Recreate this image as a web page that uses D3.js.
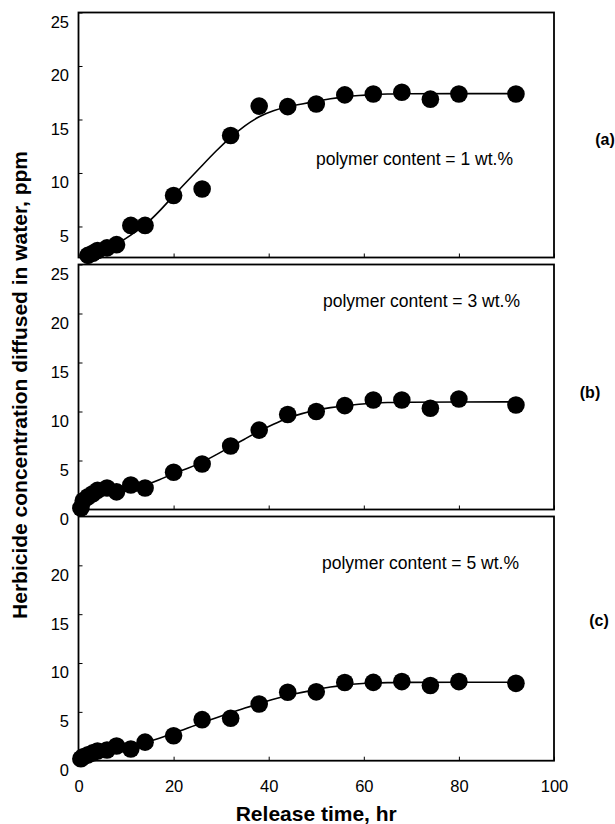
<!DOCTYPE html>
<html>
<head>
<meta charset="utf-8">
<script src="https://cdn.jsdelivr.net/npm/d3@7/dist/d3.min.js"></script>
<style>
  html, body { margin: 0; padding: 0; background: #fff; }
  svg { display: block; }
  text { font-family: "Liberation Sans", Arial, sans-serif; fill: #000; }
</style>
</head>
<body>
<svg id="chart" width="615" height="824"></svg>
<script>
// ---- data ----
const timeA = [2, 3, 4, 6, 8, 11, 14, 20, 26, 32, 38, 44, 50, 56, 62, 68, 74, 80, 92];
const concA = [2.3, 2.5, 2.75, 3.0, 3.3, 5.1, 5.1, 7.9, 8.5, 13.5, 16.25, 16.2, 16.45, 17.3, 17.38, 17.54, 16.9, 17.38, 17.38];

const timeBC = [0.5, 1, 2, 3, 4, 6, 8, 11, 14, 20, 26, 32, 38, 44, 50, 56, 62, 68, 74, 80, 92];
const concB = [0.15, 0.9, 1.3, 1.6, 1.95, 2.2, 1.8, 2.5, 2.2, 3.8, 4.64, 6.48, 8.1, 9.7, 10.0, 10.6, 11.17, 11.17, 10.33, 11.28, 10.66];
const concC = [0.2, 0.4, 0.6, 0.8, 1.0, 1.1, 1.5, 1.2, 1.9, 2.55, 4.2, 4.35, 5.8, 7.0, 7.05, 8.0, 8.02, 8.1, 7.7, 8.1, 7.92];

// fitted curves
const fitTimeA = [2, 5, 8, 11, 14, 17, 20, 23, 26, 29, 32, 35, 38, 41, 44, 47, 50, 53, 56, 59, 62, 65, 68, 80, 92];
const fitA = [2.2, 2.7, 3.3, 4.2, 5.1, 6.4, 7.9, 9.3, 10.7, 12.1, 13.35, 14.45, 15.3, 15.85, 16.2, 16.45, 16.7, 16.95, 17.12, 17.25, 17.33, 17.38, 17.41, 17.42, 17.42];
const fitTimeBC = [0.5, 2, 5, 8, 11, 14, 17, 20, 23, 26, 29, 32, 35, 38, 41, 44, 47, 50, 53, 56, 59, 62, 65, 68, 80, 92];
const fitB = [0.3, 1.2, 1.75, 2.0, 2.2, 2.45, 3.0, 3.7, 4.2, 4.8, 5.6, 6.4, 7.2, 8.0, 8.7, 9.35, 9.8, 10.15, 10.4, 10.6, 10.75, 10.85, 10.92, 10.95, 10.98, 10.98];
const fitC = [0.3, 0.55, 0.85, 1.15, 1.5, 1.85, 2.3, 2.8, 3.35, 3.9, 4.4, 4.9, 5.4, 5.85, 6.3, 6.7, 7.0, 7.28, 7.55, 7.75, 7.88, 7.96, 8.0, 8.02, 8.03, 8.03];

const yTicksA = [5, 10, 15, 20, 25];
const yTicksB = [0, 5, 10, 15, 20, 25];
const yTicksC = [0, 5, 10, 15, 20];
const xTicks = [0, 20, 40, 60, 80, 100];

const labels = ["(a)", "(b)", "(c)"];
const notes = ["polymer content = 1 wt.%", "polymer content = 3 wt.%", "polymer content = 5 wt.%"];
const xTitle = "Release time, hr";
const yTitle = "Herbicide concentration diffused in water, ppm";

// ---- layout ----
const svg = d3.select("#chart");
const left = 78.5, right = 554;
const x = d3.scaleLinear().domain([0, 100]).range([left, right]);
const FONT = "'Liberation Sans', Arial, sans-serif";

const panels = [
  { t: timeA, c: concA, ft: fitTimeA, f: fitA, ticks: yTicksA, dom: [2.1, 25], top: 12.5, bottom: 257.5,
    label: labels[0], lx: 605, ly: 139, note: notes[0], nx: 316, ny: 159 },
  { t: timeBC, c: concB, ft: fitTimeBC, f: fitB, ticks: yTicksB, dom: [0, 25], top: 264.5, bottom: 509.5,
    label: labels[1], lx: 590, ly: 392, note: notes[1], nx: 323, ny: 301 },
  { t: timeBC, c: concC, ft: fitTimeBC, f: fitC, ticks: yTicksC, dom: [0, 25], top: 516.5, bottom: 760.7,
    label: labels[2], lx: 599, ly: 620, note: notes[2], nx: 322, ny: 563 }
];

panels.forEach((p, i) => {
  const y = d3.scaleLinear().domain(p.dom).range([p.bottom, p.top]);
  const g = svg.append("g");

  // frame
  g.append("rect")
    .attr("x", left).attr("y", p.top)
    .attr("width", right - left).attr("height", p.bottom - p.top)
    .attr("fill", "#fff").attr("stroke", "#000").attr("stroke-width", 1.8);

  // y axis: inward ticks + labels
  const yAxis = d3.axisLeft(y).tickValues(p.ticks).tickSize(-4).tickPadding(10);
  const ya = g.append("g").attr("transform", `translate(${left},0)`).call(yAxis);
  ya.select(".domain").remove();
  ya.selectAll(".tick line").attr("stroke", "#000").attr("stroke-width", 1);
  ya.selectAll(".tick text")
    .attr("font-size", 16.5).attr("font-family", FONT)
    .attr("dy", "0.9em").attr("x", -9.5);

  // x axis ticks (inward) for every panel, labels only at bottom
  const xAxis = d3.axisBottom(x).tickValues(xTicks).tickSize(-4).tickPadding(10);
  const xa = g.append("g").attr("transform", `translate(0,${p.bottom})`).call(xAxis);
  xa.select(".domain").remove();
  xa.selectAll(".tick line").attr("stroke", "#000").attr("stroke-width", 1);
  if (i === 2) {
    xa.selectAll(".tick text")
      .attr("font-size", 16.5).attr("font-family", FONT)
      .attr("y", 0).attr("dy", 31);
  } else {
    xa.selectAll(".tick text").remove();
  }

  // fitted line
  const line = d3.line().x(d => x(d[0])).y(d => y(d[1])).curve(d3.curveBasis);
  g.append("path")
    .datum(p.ft.map((t, k) => [t, p.f[k]]))
    .attr("d", line)
    .attr("fill", "none").attr("stroke", "#000").attr("stroke-width", 1.6);

  // points
  g.selectAll("circle.pt")
    .data(p.t.map((t, k) => [t, p.c[k]]))
    .join("circle").attr("class", "pt")
    .attr("cx", d => x(d[0])).attr("cy", d => y(d[1]))
    .attr("r", 8.8).attr("fill", "#000");

  // annotation
  g.append("text").attr("x", p.nx).attr("y", p.ny).attr("dy", "0.35em")
    .attr("font-size", 17.5).text(p.note);

  // panel label
  svg.append("text").attr("x", p.lx).attr("y", p.ly).attr("dy", "0.35em")
    .attr("text-anchor", "middle").attr("font-size", 16).attr("font-weight", "bold").text(p.label);
});

// axis titles
svg.append("text")
  .attr("x", (left + right) / 2).attr("y", 821)
  .attr("text-anchor", "middle").attr("font-size", 21).attr("font-weight", "bold")
  .text(xTitle);

svg.append("text")
  .attr("transform", "translate(27,385) rotate(-90)")
  .attr("text-anchor", "middle").attr("font-size", 21).attr("font-weight", "bold")
  .text(yTitle);
</script>
</body>
</html>
